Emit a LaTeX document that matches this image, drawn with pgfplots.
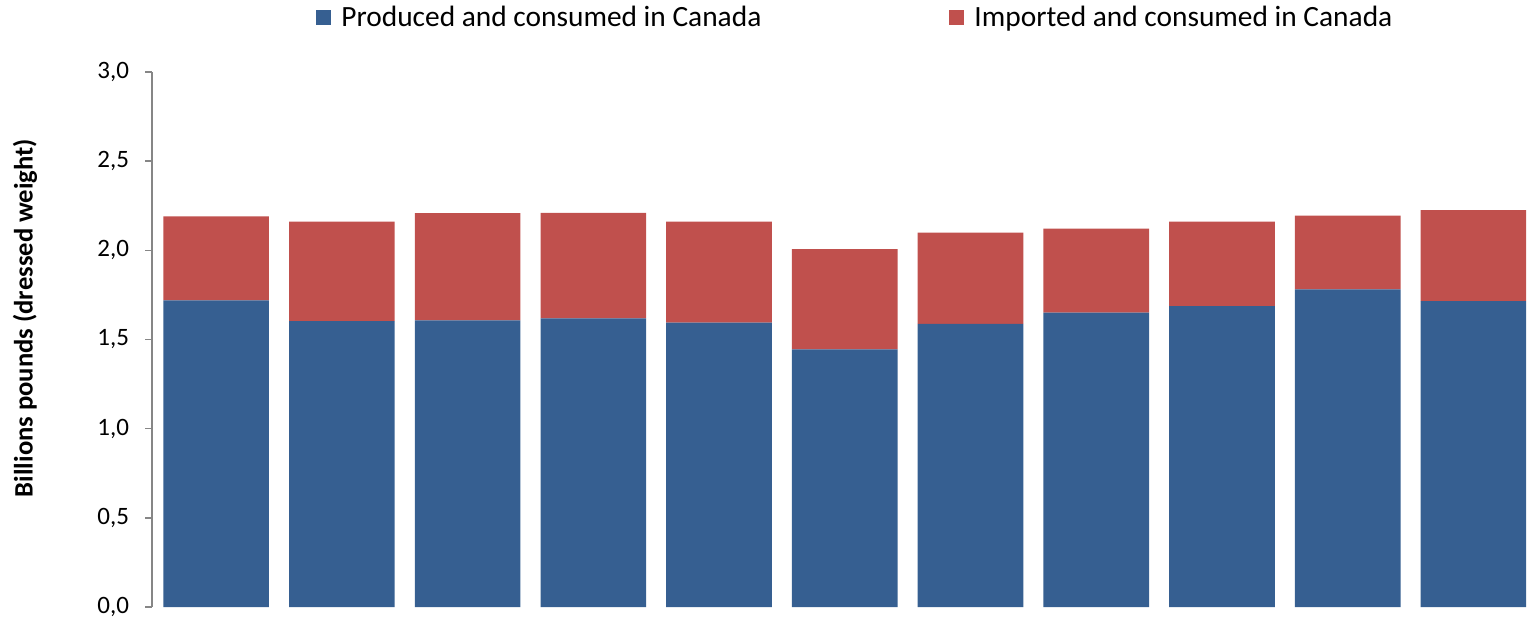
\documentclass[border=0pt]{standalone}
\usepackage{pgfplots}
\pgfplotsset{compat=1.18}
\usepackage{fontspec}
\setmainfont{Carlito}
\definecolor{prodblue}{RGB}{54,95,145}
\definecolor{impred}{RGB}{192,80,77}
\definecolor{axisgray}{RGB}{134,134,134}
\begin{document}
\begin{tikzpicture}
	\begin{axis}[
			scale only axis,
			width=689pt, height=267.5pt,
			ybar stacked,
			bar width=0.84,
			xmin=-0.51, xmax=10.45,
			ymin=0, ymax=3,
			ytick={0,0.5,...,3},
			axis x line=none,
			axis y line*=left,
			y axis line style={draw=axisgray, line width=0.8pt, -},
			ytick style={draw=axisgray, line width=0.8pt},
			tick align=outside,
			major tick length=3.5pt,
			/pgf/number format/use comma,
			/pgf/number format/fixed,
			/pgf/number format/fixed zerofill,
			/pgf/number format/precision=1,
			/pgf/number format/assume math mode=true,
			yticklabel style={font=\fontsize{12.5}{14}\selectfont, xshift=-4.5pt},
			ylabel={\textbf{Billions pounds (dressed weight)}},
			ylabel style={font=\fontsize{13.3}{15}\selectfont, at={(rel axis cs:0,0.54)}, anchor=center, yshift=63.5pt},
			legend style={at={(0.119,1.101)}, anchor=west, draw=none, inner sep=0pt, legend columns=2,
				font=\fontsize{14.7}{16}\selectfont,
				nodes={inner sep=0pt},
				/tikz/every odd column/.style={column sep=5pt},
				/tikz/column 2/.style={column sep=94pt}},
			legend image code/.code={\fill[#1] (0pt,-3.75pt) rectangle (7.5pt,3.75pt);},
		]
		\addplot+[fill=prodblue, draw=none] coordinates {
			(0,1.719)(1,1.603)(2,1.607)(3,1.618)(4,1.594)(5,1.444)(6,1.588)(7,1.650)(8,1.687)(9,1.781)(10,1.715)
		};
		\addplot+[fill=impred, draw=none] coordinates {
			(0,0.472)(1,0.558)(2,0.601)(3,0.592)(4,0.567)(5,0.563)(6,0.511)(7,0.472)(8,0.474)(9,0.414)(10,0.511)
		};
		\legend{Produced and consumed in Canada, Imported and consumed in Canada}
	\end{axis}
	\pgfresetboundingbox
	\path ([shift={(-76pt,-7pt)}]current axis.south west) rectangle ([shift={(2pt,36pt)}]current axis.north east);
\end{tikzpicture}
\end{document}
